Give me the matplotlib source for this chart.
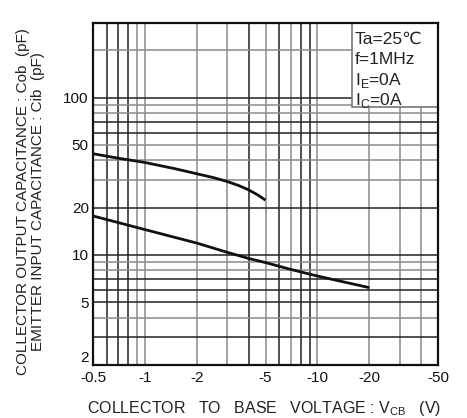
import matplotlib
matplotlib.use("Agg")
import matplotlib.pyplot as plt
from matplotlib.ticker import FixedLocator, NullFormatter, NullLocator
from matplotlib.patches import Rectangle

plt.rcParams['font.family'] = ['Liberation Sans', 'DejaVu Sans']
plt.rcParams['mathtext.fontset'] = 'custom'
plt.rcParams['mathtext.rm'] = 'Liberation Sans'

# ---- data ----
upper_v = [0.5, 0.7, 1.0, 1.5, 2.0, 2.5, 3.0, 3.5, 4.0, 4.5, 5.0]
upper_c = [44.0, 41.2, 38.7, 35.3, 32.8, 31.0, 29.3, 27.6, 25.9, 24.1, 22.3]

lower_v = [0.5, 1.0, 2.0, 3.0, 4.0, 5.0, 7.0, 10.0, 20.0]
lower_c = [17.7, 14.5, 11.9, 10.4, 9.5, 8.95, 8.1, 7.35, 6.2]

x_ticks = [0.5, 1, 2, 5, 10, 20, 50]
x_tick_labels = ['-0.5', '-1', '-2', '-5', '-10', '-20', '-50']
y_ticks = [2, 5, 10, 20, 50, 100]
y_tick_labels = ['2', '5', '10', '20', '50', '100']

x_grid = [0.6, 0.7, 0.8, 0.9, 1, 2, 3, 4, 5, 6, 7, 8, 9, 10, 20, 30, 40]
x_grid_dark = [True, True, True, False, False, False, False, True, False,
               True, False, True, True, False, False, False, False]
y_grid = [3, 4, 5, 6, 7, 8, 9, 10, 20, 30, 40, 50, 60, 70, 80, 90, 100, 200]
y_grid_dark = [True, False, True, True, True, False, False, True, True, False,
               False, False, True, True, False, False, True, False]

conditions = ["Ta=25\u2103", "f=1MHz", r"I$_\mathregular{E}$=0A", r"I$_\mathregular{C}$=0A"]

# ---- figure ----
W, H = 467, 418
fig = plt.figure(figsize=(W / 100, H / 100), dpi=100)
ax = fig.add_axes([93 / W, (H - 365) / H, (438 - 93) / W, (365 - 22.5) / H])
ax.set_xscale('log')
ax.set_yscale('log')
ax.set_xlim(0.5, 50)
ax.set_ylim(2, 300)

for v, d in zip(x_grid, x_grid_dark):
    ax.axvline(v, color='#222222' if d else '#8a8a8a', lw=1.1, zorder=1)
for v, d in zip(y_grid, y_grid_dark):
    ax.axhline(v, color='#222222' if d else '#8a8a8a', lw=1.1, zorder=1)

ax.plot(upper_v, upper_c, color='#111111', lw=2.0, zorder=3,
        solid_capstyle='butt', solid_joinstyle='round')
ax.plot(lower_v, lower_c, color='#111111', lw=2.0, zorder=3,
        solid_capstyle='butt', solid_joinstyle='round')

ax.xaxis.set_major_locator(FixedLocator(x_ticks))
ax.xaxis.set_minor_locator(NullLocator())
ax.set_xticklabels(x_tick_labels)
ax.yaxis.set_major_locator(FixedLocator(y_ticks))
ax.yaxis.set_minor_locator(NullLocator())
ax.set_yticklabels(y_tick_labels)
ax.xaxis.set_minor_formatter(NullFormatter())
ax.yaxis.set_minor_formatter(NullFormatter())
ax.tick_params(axis='both', which='both', length=0, labelsize=11, colors='#111111')
ax.tick_params(axis='x', pad=4)
ax.tick_params(axis='y', pad=3)
# the lowest y label sits just above the bottom edge, as in the reference
ax.get_yticklabels()[0].set_verticalalignment('bottom')

for s in ax.spines.values():
    s.set_linewidth(1.6)
    s.set_color('#111111')
    s.set_zorder(5)

# condition box
box = Rectangle((0.751, 0.752), 0.249, 0.248, transform=ax.transAxes,
                facecolor='white', edgecolor='#777777', lw=1.2, zorder=4)
ax.add_patch(box)
ys = [39, 60, 80, 100]
for t, yy in zip(conditions, ys):
    fig.text(355 / W, 1 - yy / H, t, fontsize=12.5, ha='left', va='center',
             color='#222222', zorder=6)

# axis labels
fig.text(23 / W, 1 - 202 / H, "COLLECTOR OUTPUT CAPACITANCE : Cob  (pF)",
         rotation=90, ha='center', va='center', fontsize=11, color='#222222')
fig.text(38 / W, 1 - 202 / H, "EMITTER INPUT CAPACITANCE : Cib  (pF)",
         rotation=90, ha='center', va='center', fontsize=11, color='#222222')
fig.text(264 / W, 1 - 408 / H, r"COLLECTOR   TO   BASE   VOLTAGE : V$_\mathregular{CB}$   (V)",
         ha='center', va='center', fontsize=11.5, color='#222222')

fig.savefig('out.png', dpi=100)
